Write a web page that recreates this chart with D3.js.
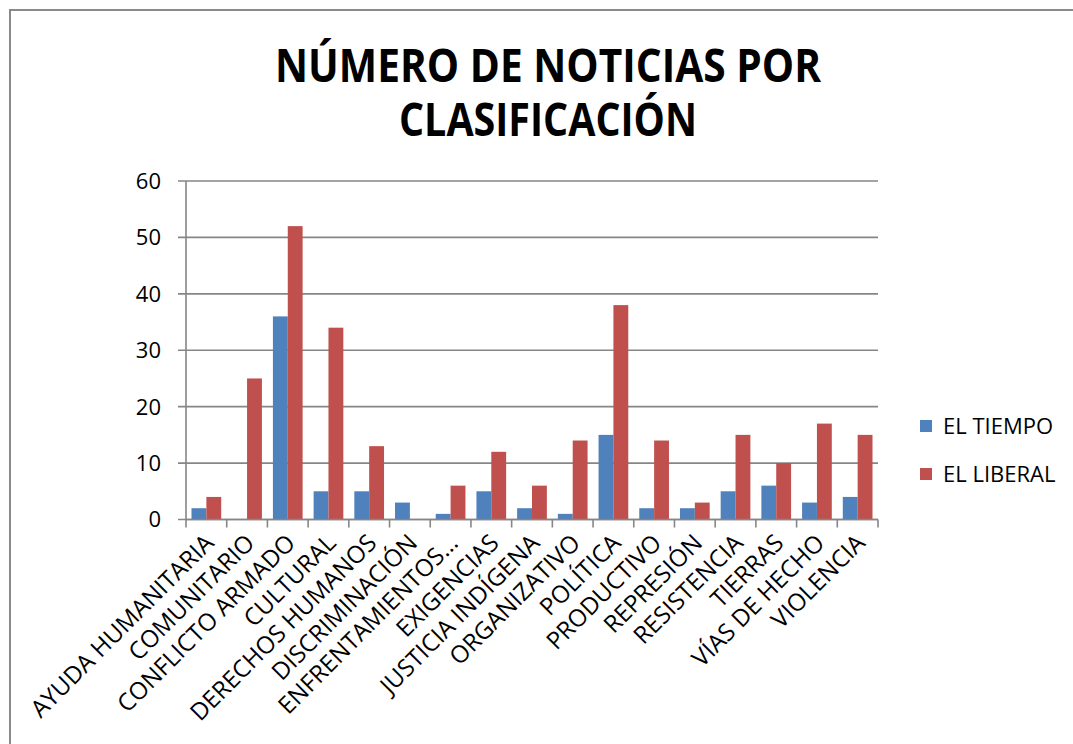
<!DOCTYPE html>
<html>
<head>
<meta charset="utf-8">
<script src="https://cdn.jsdelivr.net/npm/d3@7"></script>
<style>
  body { margin: 0; background: #fff; }
  svg { display: block; font-family: "Open Sans", "Noto Sans", sans-serif; }
</style>
</head>
<body>
<svg id="chart" width="1073" height="744"></svg>
<script>
var categories = ["AYUDA HUMANITARIA", "COMUNITARIO", "CONFLICTO ARMADO", "CULTURAL",
  "DERECHOS HUMANOS", "DISCRIMINACIÓN", "ENFRENTAMIENTOS...", "EXIGENCIAS",
  "JUSTICIA INDÍGENA", "ORGANIZATIVO", "POLÍTICA", "PRODUCTIVO", "REPRESIÓN",
  "RESISTENCIA", "TIERRAS", "VÍAS DE HECHO", "VIOLENCIA"];
var series = ["EL TIEMPO", "EL LIBERAL"];
var elTiempo = [2, 0, 36, 5, 5, 3, 1, 5, 2, 1, 15, 2, 2, 5, 6, 3, 4];
var elLiberal = [4, 25, 52, 34, 13, 0, 6, 12, 6, 14, 38, 14, 3, 15, 10, 17, 15];
var yTicks = [0, 10, 20, 30, 40, 50, 60];
var colors = ["#4F81BD", "#C0504D"];

var svg = d3.select("#chart");

// outer frame, runs off the right and bottom edges
svg.append("rect")
  .attr("x", 10).attr("y", 10)
  .attr("width", 1100).attr("height", 800)
  .attr("fill", "none").attr("stroke", "#8a8a8a").attr("stroke-width", 2);

var plot = {left: 186, right: 878, top: 181, bottom: 519.5};

var x = d3.scaleBand().domain(categories).range([plot.left, plot.right]);
var xs = d3.scaleBand().domain(series).range([0, x.bandwidth()]).paddingInner(0).paddingOuter(0.37);
var y = d3.scaleLinear().domain([0, 60]).range([plot.bottom, plot.top]);

// gridlines + y labels
var g = svg.append("g");
g.selectAll(".grid").data(yTicks).enter().append("line")
  .attr("x1", plot.left - 8).attr("x2", plot.right)
  .attr("y1", function(d) { return y(d); }).attr("y2", function(d) { return y(d); })
  .attr("stroke", "#868686").attr("stroke-width", 1.6);

g.selectAll(".ylab").data(yTicks).enter().append("text")
  .attr("x", plot.left - 25).attr("y", function(d) { return y(d); })
  .attr("dy", "0.36em")
  .attr("text-anchor", "end")
  .attr("font-size", 22)
  .text(function(d) { return d; });

// bars
var rows = categories.map(function(c, i) {
  return {cat: c, vals: [elTiempo[i], elLiberal[i]]};
});
var groups = svg.append("g").selectAll("g").data(rows).enter().append("g")
  .attr("transform", function(d) { return "translate(" + x(d.cat) + ",0)"; });
groups.selectAll("rect").data(function(d) {
    return d.vals.map(function(v, j) { return {s: series[j], v: v, j: j}; });
  }).enter().append("rect")
  .attr("x", function(d) { return xs(d.s); })
  .attr("width", xs.bandwidth())
  .attr("y", function(d) { return y(d.v); })
  .attr("height", function(d) { return y(0) - y(d.v); })
  .attr("fill", function(d) { return colors[d.j]; });

// axes lines
svg.append("line")
  .attr("x1", plot.left).attr("x2", plot.left)
  .attr("y1", plot.top).attr("y2", plot.bottom)
  .attr("stroke", "#868686").attr("stroke-width", 1.6);
svg.append("line")
  .attr("x1", plot.left).attr("x2", plot.right)
  .attr("y1", plot.bottom).attr("y2", plot.bottom)
  .attr("stroke", "#868686").attr("stroke-width", 1.6);

var tickX = categories.map(function(c) { return x(c); }).concat([plot.right]);
svg.append("g").selectAll("line").data(tickX).enter().append("line")
  .attr("x1", function(d) { return d; }).attr("x2", function(d) { return d; })
  .attr("y1", plot.bottom).attr("y2", plot.bottom + 8)
  .attr("stroke", "#868686").attr("stroke-width", 1.6);

// category labels
svg.append("g").selectAll("text").data(categories).enter().append("text")
  .attr("transform", function(d) {
    var cx = x(d) + x.bandwidth() / 2 + 3;
    return "translate(" + cx + "," + (plot.bottom + 19) + ") rotate(-45)";
  })
  .attr("text-anchor", "end")
  .attr("dy", "0.35em")
  .attr("font-size", 24)
  .text(function(d) { return d; });

// title
var title = svg.append("text")
  .attr("x", 548).attr("text-anchor", "middle")
  .attr("font-size", 47).attr("font-weight", "bold");
title.append("tspan").attr("x", 548).attr("y", 82)
  .attr("textLength", 546).attr("lengthAdjust", "spacingAndGlyphs")
  .text("NÚMERO DE NOTICIAS POR");
title.append("tspan").attr("x", 548).attr("y", 136)
  .attr("textLength", 298).attr("lengthAdjust", "spacingAndGlyphs")
  .text("CLASIFICACIÓN");

// legend
var leg = svg.append("g").selectAll("g").data(series).enter().append("g")
  .attr("transform", function(d, i) { return "translate(920," + (426 + i * 48) + ")"; });
leg.append("rect").attr("x", 0).attr("y", -6).attr("width", 12).attr("height", 12)
  .attr("fill", function(d, i) { return colors[i]; });
leg.append("text").attr("x", 23).attr("dy", "0.36em")
  .attr("font-size", 22).text(function(d) { return d; });
</script>
</body>
</html>
